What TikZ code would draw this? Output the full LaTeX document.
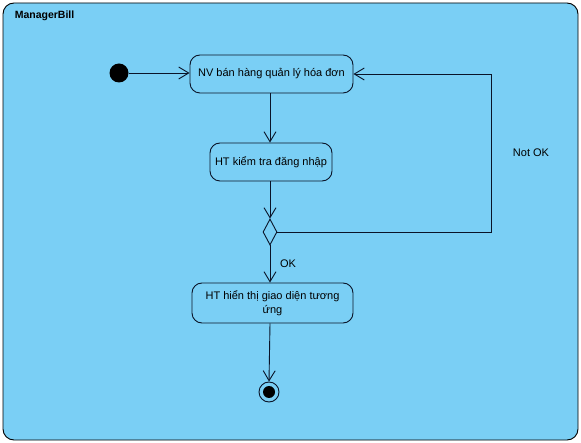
\documentclass[tikz,border=0pt]{standalone}
\usepackage{fontspec}
\setmainfont{Liberation Sans}
\usetikzlibrary{positioning,shapes.geometric,arrows.meta}
\definecolor{vpblue}{RGB}{122,207,245}
\definecolor{vpline}{RGB}{10,20,40}

\begin{document}
\begin{tikzpicture}[x=1pt,y=-1pt, line width=0.9pt,
	action/.style={draw=vpline, rounded corners=10pt, minimum height=38pt, inner sep=2pt, align=center, font=\fontsize{11}{14}\selectfont},
	flow/.style={draw=vpline, -{Straight Barb[length=10pt,width=12pt,line width=0.9pt]}},
	guard/.style={font=\fontsize{11}{13}\selectfont, inner sep=1pt}]
	\useasboundingbox (0,0) rectangle (581,443);
	\draw[fill=vpblue, rounded corners=11pt] (3,3) rectangle (578,440);
	\node[anchor=west, font=\bfseries\fontsize{10.5}{12}\selectfont] (title) at (11,16) {ManagerBill};
	% nodes
	\node[circle, fill=black, minimum size=19pt, inner sep=0pt] (start) at (119,73) {};
	\node[action, minimum width=163pt] (nv) at (271.5,74) {NV bán hàng quản lý hóa đơn};
	\node[action, minimum width=122pt] (check) at (271,162) {HT kiểm tra đăng nhập};
	\node[diamond, draw=vpline, minimum width=14pt, minimum height=26pt, inner sep=0pt] (dec) at (270,232) {};
	\node[action, minimum width=161pt, minimum height=40pt] (show) at (272.5,303) {HT hiển thị giao diện tương\\ứng};
	\node[circle, draw=vpline, minimum size=20pt, inner sep=0pt] (stop) at (269,392) {};
	\node[circle, fill=black, minimum size=12pt, inner sep=0pt] (stopdot) at (stop) {};
	\coordinate (back) at (491,232);
	% flows
	\draw[flow] (start) -- (start -| nv.west);
	\draw[flow] (nv.south -| dec) -- (check.north -| dec);
	\draw[flow] (check.south -| dec) -- (dec.north);
	\draw[flow] (dec.east) -- (back) |- (nv.east);
	\draw[flow] (dec.south) -- (show.north -| dec);
	\draw[flow] (show.south -| dec) -- (stop.north);
	\node[guard] (notok) at (531,153) {Not OK};
	\node[guard] (ok) at (288,264) {OK};
\end{tikzpicture}
\end{document}
